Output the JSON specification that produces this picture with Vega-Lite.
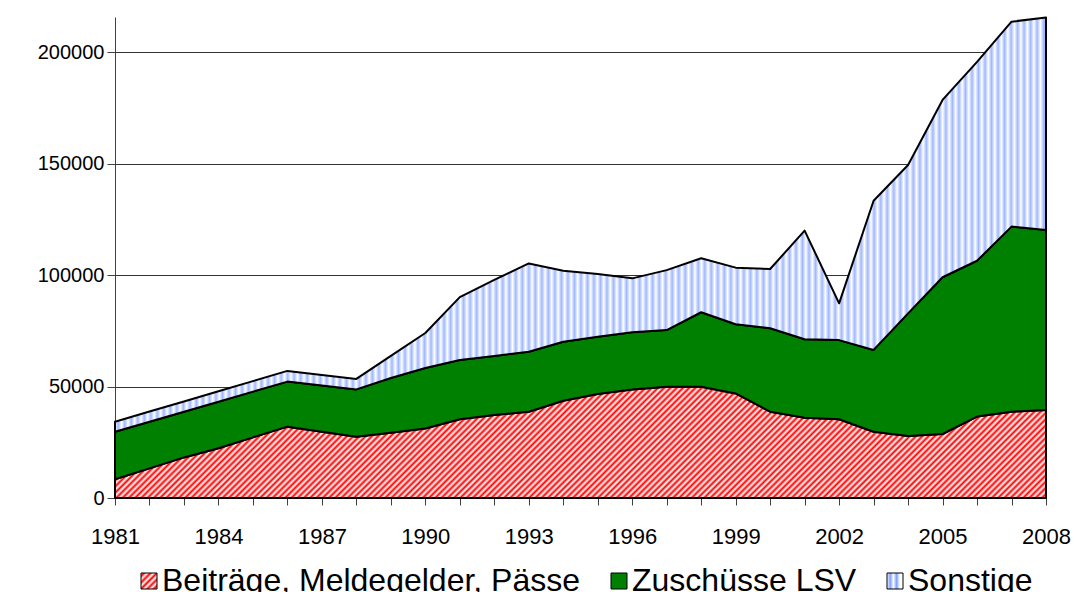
{
"$schema": "https://vega.github.io/schema/vega-lite/v6.json",
"width": 931,
"height": 481,
"autosize": {"type": "none"},
"padding": {"left": 115, "top": 17, "right": 30, "bottom": 94},
"background": "white",
"config": {
  "view": {"stroke": null},
  "font": "Liberation Sans",
  "axis": {"labelFont": "Liberation Sans", "labelColor": "black", "labelFontSize": 22, "domainColor": "#404040", "tickColor": "#404040", "domainWidth": 1, "tickWidth": 1, "labelFlush": false, "labelOverlap": false, "title": null}
},
"data": {"values": [
{"year":1981,"series":"Beiträge, Meldegelder, Pässe","k":1,"value":8400},{"year":1981,"series":"Zuschüsse LSV","k":2,"value":21300},{"year":1981,"series":"Sonstige","k":3,"value":4500},
{"year":1982,"series":"Beiträge, Meldegelder, Pässe","k":1,"value":13300},{"year":1982,"series":"Zuschüsse LSV","k":2,"value":20900},{"year":1982,"series":"Sonstige","k":3,"value":4600},
{"year":1983,"series":"Beiträge, Meldegelder, Pässe","k":1,"value":18200},{"year":1983,"series":"Zuschüsse LSV","k":2,"value":20500},{"year":1983,"series":"Sonstige","k":3,"value":4600},
{"year":1984,"series":"Beiträge, Meldegelder, Pässe","k":1,"value":22300},{"year":1984,"series":"Zuschüsse LSV","k":2,"value":20900},{"year":1984,"series":"Sonstige","k":3,"value":4700},
{"year":1985,"series":"Beiträge, Meldegelder, Pässe","k":1,"value":27200},{"year":1985,"series":"Zuschüsse LSV","k":2,"value":20500},{"year":1985,"series":"Sonstige","k":3,"value":4700},
{"year":1986,"series":"Beiträge, Meldegelder, Pässe","k":1,"value":32000},{"year":1986,"series":"Zuschüsse LSV","k":2,"value":20200},{"year":1986,"series":"Sonstige","k":3,"value":4800},
{"year":1987,"series":"Beiträge, Meldegelder, Pässe","k":1,"value":29700},{"year":1987,"series":"Zuschüsse LSV","k":2,"value":20800},{"year":1987,"series":"Sonstige","k":3,"value":4700},
{"year":1988,"series":"Beiträge, Meldegelder, Pässe","k":1,"value":27500},{"year":1988,"series":"Zuschüsse LSV","k":2,"value":21200},{"year":1988,"series":"Sonstige","k":3,"value":4700},
{"year":1989,"series":"Beiträge, Meldegelder, Pässe","k":1,"value":29300},{"year":1989,"series":"Zuschüsse LSV","k":2,"value":24500},{"year":1989,"series":"Sonstige","k":3,"value":9900},
{"year":1990,"series":"Beiträge, Meldegelder, Pässe","k":1,"value":31200},{"year":1990,"series":"Zuschüsse LSV","k":2,"value":27100},{"year":1990,"series":"Sonstige","k":3,"value":15700},
{"year":1991,"series":"Beiträge, Meldegelder, Pässe","k":1,"value":35300},{"year":1991,"series":"Zuschüsse LSV","k":2,"value":26600},{"year":1991,"series":"Sonstige","k":3,"value":28200},
{"year":1992,"series":"Beiträge, Meldegelder, Pässe","k":1,"value":37200},{"year":1992,"series":"Zuschüsse LSV","k":2,"value":26500},{"year":1992,"series":"Sonstige","k":3,"value":34100},
{"year":1993,"series":"Beiträge, Meldegelder, Pässe","k":1,"value":38700},{"year":1993,"series":"Zuschüsse LSV","k":2,"value":26900},{"year":1993,"series":"Sonstige","k":3,"value":39600},
{"year":1994,"series":"Beiträge, Meldegelder, Pässe","k":1,"value":43600},{"year":1994,"series":"Zuschüsse LSV","k":2,"value":26500},{"year":1994,"series":"Sonstige","k":3,"value":31800},
{"year":1995,"series":"Beiträge, Meldegelder, Pässe","k":1,"value":46600},{"year":1995,"series":"Zuschüsse LSV","k":2,"value":25700},{"year":1995,"series":"Sonstige","k":3,"value":28100},
{"year":1996,"series":"Beiträge, Meldegelder, Pässe","k":1,"value":48700},{"year":1996,"series":"Zuschüsse LSV","k":2,"value":25600},{"year":1996,"series":"Sonstige","k":3,"value":24200},
{"year":1997,"series":"Beiträge, Meldegelder, Pässe","k":1,"value":49900},{"year":1997,"series":"Zuschüsse LSV","k":2,"value":25400},{"year":1997,"series":"Sonstige","k":3,"value":26900},
{"year":1998,"series":"Beiträge, Meldegelder, Pässe","k":1,"value":49900},{"year":1998,"series":"Zuschüsse LSV","k":2,"value":33400},{"year":1998,"series":"Sonstige","k":3,"value":24200},
{"year":1999,"series":"Beiträge, Meldegelder, Pässe","k":1,"value":46900},{"year":1999,"series":"Zuschüsse LSV","k":2,"value":31000},{"year":1999,"series":"Sonstige","k":3,"value":25400},
{"year":2000,"series":"Beiträge, Meldegelder, Pässe","k":1,"value":38700},{"year":2000,"series":"Zuschüsse LSV","k":2,"value":37400},{"year":2000,"series":"Sonstige","k":3,"value":26600},
{"year":2001,"series":"Beiträge, Meldegelder, Pässe","k":1,"value":36000},{"year":2001,"series":"Zuschüsse LSV","k":2,"value":35200},{"year":2001,"series":"Sonstige","k":3,"value":48700},
{"year":2002,"series":"Beiträge, Meldegelder, Pässe","k":1,"value":35300},{"year":2002,"series":"Zuschüsse LSV","k":2,"value":35500},{"year":2002,"series":"Sonstige","k":3,"value":16500},
{"year":2003,"series":"Beiträge, Meldegelder, Pässe","k":1,"value":29700},{"year":2003,"series":"Zuschüsse LSV","k":2,"value":36700},{"year":2003,"series":"Sonstige","k":3,"value":66900},
{"year":2004,"series":"Beiträge, Meldegelder, Pässe","k":1,"value":27800},{"year":2004,"series":"Zuschüsse LSV","k":2,"value":55000},{"year":2004,"series":"Sonstige","k":3,"value":66500},
{"year":2005,"series":"Beiträge, Meldegelder, Pässe","k":1,"value":28700},{"year":2005,"series":"Zuschüsse LSV","k":2,"value":70300},{"year":2005,"series":"Sonstige","k":3,"value":79500},
{"year":2006,"series":"Beiträge, Meldegelder, Pässe","k":1,"value":36500},{"year":2006,"series":"Zuschüsse LSV","k":2,"value":69900},{"year":2006,"series":"Sonstige","k":3,"value":89200},
{"year":2007,"series":"Beiträge, Meldegelder, Pässe","k":1,"value":38700},{"year":2007,"series":"Zuschüsse LSV","k":2,"value":83000},{"year":2007,"series":"Sonstige","k":3,"value":91900},
{"year":2008,"series":"Beiträge, Meldegelder, Pässe","k":1,"value":39500},{"year":2008,"series":"Zuschüsse LSV","k":2,"value":80700},{"year":2008,"series":"Sonstige","k":3,"value":95300}
]},
"transform": [
  {"stack": "value", "groupby": ["year"], "sort": [{"field": "k", "order": "ascending"}], "as": ["v0", "v1"]}
],
"encoding": {
  "x": {"field": "year", "type": "quantitative",
    "scale": {"domain": [1981, 2008], "nice": false, "zero": false},
    "axis": {"values": [1981,1982,1983,1984,1985,1986,1987,1988,1989,1990,1991,1992,1993,1994,1995,1996,1997,1998,1999,2000,2001,2002,2003,2004,2005,2006,2007,2008],
      "format": "d", "labelExpr": "(datum.value - 1981) % 3 == 0 ? datum.label : ''", "grid": false, "tickSize": 7, "labelPadding": 21, "labelFontSize": 22}},
  "y": {"field": "v1", "type": "quantitative",
    "scale": {"domain": [0, 215700], "nice": false},
    "axis": {"values": [0, 50000, 100000, 150000, 200000], "format": "d", "grid": true, "gridColor": "#333333", "gridWidth": 1, "tickSize": 8, "labelPadding": 3, "labelFontSize": 20}},
  "y2": {"field": "v0"}
},
"layer": [
  {
    "transform": [{"filter": "datum.k == 1"}],
    "mark": {"type": "area", "interpolate": "linear", "stroke": "black", "strokeWidth": 2, "strokeJoin": "round",
      "color": {"gradient": "linear", "x1": 0, "y1": 0, "x2": 1.1038, "y2": 0.132, "stops": [
{"offset":0,"color":"#f00"},{"offset":0.003,"color":"#fff"},{"offset":0.006,"color":"#f00"},{"offset":0.009,"color":"#fff"},{"offset":0.012,"color":"#f00"},{"offset":0.015,"color":"#fff"},{"offset":0.018,"color":"#f00"},{"offset":0.021,"color":"#fff"},{"offset":0.024,"color":"#f00"},{"offset":0.027,"color":"#fff"},
{"offset":0.03,"color":"#f00"},{"offset":0.033,"color":"#fff"},{"offset":0.036,"color":"#f00"},{"offset":0.039,"color":"#fff"},{"offset":0.042,"color":"#f00"},{"offset":0.045,"color":"#fff"},{"offset":0.048,"color":"#f00"},{"offset":0.051,"color":"#fff"},{"offset":0.054,"color":"#f00"},{"offset":0.057,"color":"#fff"},
{"offset":0.06,"color":"#f00"},{"offset":0.063,"color":"#fff"},{"offset":0.066,"color":"#f00"},{"offset":0.069,"color":"#fff"},{"offset":0.072,"color":"#f00"},{"offset":0.075,"color":"#fff"},{"offset":0.078,"color":"#f00"},{"offset":0.081,"color":"#fff"},{"offset":0.084,"color":"#f00"},{"offset":0.087,"color":"#fff"},
{"offset":0.09,"color":"#f00"},{"offset":0.093,"color":"#fff"},{"offset":0.096,"color":"#f00"},{"offset":0.099,"color":"#fff"},{"offset":0.102,"color":"#f00"},{"offset":0.105,"color":"#fff"},{"offset":0.108,"color":"#f00"},{"offset":0.111,"color":"#fff"},{"offset":0.114,"color":"#f00"},{"offset":0.117,"color":"#fff"},
{"offset":0.12,"color":"#f00"},{"offset":0.123,"color":"#fff"},{"offset":0.126,"color":"#f00"},{"offset":0.129,"color":"#fff"},{"offset":0.132,"color":"#f00"},{"offset":0.135,"color":"#fff"},{"offset":0.138,"color":"#f00"},{"offset":0.141,"color":"#fff"},{"offset":0.144,"color":"#f00"},{"offset":0.147,"color":"#fff"},
{"offset":0.15,"color":"#f00"},{"offset":0.153,"color":"#fff"},{"offset":0.156,"color":"#f00"},{"offset":0.159,"color":"#fff"},{"offset":0.162,"color":"#f00"},{"offset":0.165,"color":"#fff"},{"offset":0.168,"color":"#f00"},{"offset":0.171,"color":"#fff"},{"offset":0.174,"color":"#f00"},{"offset":0.177,"color":"#fff"},
{"offset":0.18,"color":"#f00"},{"offset":0.183,"color":"#fff"},{"offset":0.186,"color":"#f00"},{"offset":0.189,"color":"#fff"},{"offset":0.192,"color":"#f00"},{"offset":0.195,"color":"#fff"},{"offset":0.198,"color":"#f00"},{"offset":0.201,"color":"#fff"},{"offset":0.204,"color":"#f00"},{"offset":0.207,"color":"#fff"},
{"offset":0.21,"color":"#f00"},{"offset":0.213,"color":"#fff"},{"offset":0.216,"color":"#f00"},{"offset":0.219,"color":"#fff"},{"offset":0.222,"color":"#f00"},{"offset":0.225,"color":"#fff"},{"offset":0.228,"color":"#f00"},{"offset":0.231,"color":"#fff"},{"offset":0.234,"color":"#f00"},{"offset":0.237,"color":"#fff"},
{"offset":0.24,"color":"#f00"},{"offset":0.243,"color":"#fff"},{"offset":0.246,"color":"#f00"},{"offset":0.249,"color":"#fff"},{"offset":0.252,"color":"#f00"},{"offset":0.255,"color":"#fff"},{"offset":0.258,"color":"#f00"},{"offset":0.261,"color":"#fff"},{"offset":0.264,"color":"#f00"},{"offset":0.267,"color":"#fff"},
{"offset":0.27,"color":"#f00"},{"offset":0.273,"color":"#fff"},{"offset":0.276,"color":"#f00"},{"offset":0.279,"color":"#fff"},{"offset":0.282,"color":"#f00"},{"offset":0.285,"color":"#fff"},{"offset":0.288,"color":"#f00"},{"offset":0.291,"color":"#fff"},{"offset":0.294,"color":"#f00"},{"offset":0.297,"color":"#fff"},
{"offset":0.3,"color":"#f00"},{"offset":0.303,"color":"#fff"},{"offset":0.306,"color":"#f00"},{"offset":0.309,"color":"#fff"},{"offset":0.312,"color":"#f00"},{"offset":0.315,"color":"#fff"},{"offset":0.318,"color":"#f00"},{"offset":0.321,"color":"#fff"},{"offset":0.324,"color":"#f00"},{"offset":0.327,"color":"#fff"},
{"offset":0.33,"color":"#f00"},{"offset":0.333,"color":"#fff"},{"offset":0.336,"color":"#f00"},{"offset":0.339,"color":"#fff"},{"offset":0.342,"color":"#f00"},{"offset":0.345,"color":"#fff"},{"offset":0.348,"color":"#f00"},{"offset":0.351,"color":"#fff"},{"offset":0.354,"color":"#f00"},{"offset":0.357,"color":"#fff"},
{"offset":0.36,"color":"#f00"},{"offset":0.363,"color":"#fff"},{"offset":0.366,"color":"#f00"},{"offset":0.369,"color":"#fff"},{"offset":0.372,"color":"#f00"},{"offset":0.375,"color":"#fff"},{"offset":0.378,"color":"#f00"},{"offset":0.381,"color":"#fff"},{"offset":0.384,"color":"#f00"},{"offset":0.387,"color":"#fff"},
{"offset":0.39,"color":"#f00"},{"offset":0.393,"color":"#fff"},{"offset":0.396,"color":"#f00"},{"offset":0.399,"color":"#fff"},{"offset":0.402,"color":"#f00"},{"offset":0.405,"color":"#fff"},{"offset":0.408,"color":"#f00"},{"offset":0.411,"color":"#fff"},{"offset":0.414,"color":"#f00"},{"offset":0.417,"color":"#fff"},
{"offset":0.42,"color":"#f00"},{"offset":0.423,"color":"#fff"},{"offset":0.426,"color":"#f00"},{"offset":0.429,"color":"#fff"},{"offset":0.432,"color":"#f00"},{"offset":0.435,"color":"#fff"},{"offset":0.438,"color":"#f00"},{"offset":0.441,"color":"#fff"},{"offset":0.444,"color":"#f00"},{"offset":0.447,"color":"#fff"},
{"offset":0.45,"color":"#f00"},{"offset":0.453,"color":"#fff"},{"offset":0.456,"color":"#f00"},{"offset":0.459,"color":"#fff"},{"offset":0.462,"color":"#f00"},{"offset":0.465,"color":"#fff"},{"offset":0.468,"color":"#f00"},{"offset":0.471,"color":"#fff"},{"offset":0.474,"color":"#f00"},{"offset":0.477,"color":"#fff"},
{"offset":0.48,"color":"#f00"},{"offset":0.483,"color":"#fff"},{"offset":0.486,"color":"#f00"},{"offset":0.489,"color":"#fff"},{"offset":0.492,"color":"#f00"},{"offset":0.495,"color":"#fff"},{"offset":0.498,"color":"#f00"},{"offset":0.501,"color":"#fff"},{"offset":0.504,"color":"#f00"},{"offset":0.507,"color":"#fff"},
{"offset":0.51,"color":"#f00"},{"offset":0.513,"color":"#fff"},{"offset":0.516,"color":"#f00"},{"offset":0.519,"color":"#fff"},{"offset":0.522,"color":"#f00"},{"offset":0.525,"color":"#fff"},{"offset":0.528,"color":"#f00"},{"offset":0.531,"color":"#fff"},{"offset":0.534,"color":"#f00"},{"offset":0.537,"color":"#fff"},
{"offset":0.54,"color":"#f00"},{"offset":0.543,"color":"#fff"},{"offset":0.546,"color":"#f00"},{"offset":0.549,"color":"#fff"},{"offset":0.552,"color":"#f00"},{"offset":0.555,"color":"#fff"},{"offset":0.558,"color":"#f00"},{"offset":0.561,"color":"#fff"},{"offset":0.564,"color":"#f00"},{"offset":0.567,"color":"#fff"},
{"offset":0.57,"color":"#f00"},{"offset":0.573,"color":"#fff"},{"offset":0.576,"color":"#f00"},{"offset":0.579,"color":"#fff"},{"offset":0.582,"color":"#f00"},{"offset":0.585,"color":"#fff"},{"offset":0.588,"color":"#f00"},{"offset":0.591,"color":"#fff"},{"offset":0.594,"color":"#f00"},{"offset":0.597,"color":"#fff"},
{"offset":0.6,"color":"#f00"},{"offset":0.603,"color":"#fff"},{"offset":0.606,"color":"#f00"},{"offset":0.609,"color":"#fff"},{"offset":0.612,"color":"#f00"},{"offset":0.615,"color":"#fff"},{"offset":0.618,"color":"#f00"},{"offset":0.621,"color":"#fff"},{"offset":0.624,"color":"#f00"},{"offset":0.627,"color":"#fff"},
{"offset":0.63,"color":"#f00"},{"offset":0.633,"color":"#fff"},{"offset":0.636,"color":"#f00"},{"offset":0.639,"color":"#fff"},{"offset":0.642,"color":"#f00"},{"offset":0.645,"color":"#fff"},{"offset":0.648,"color":"#f00"},{"offset":0.651,"color":"#fff"},{"offset":0.654,"color":"#f00"},{"offset":0.657,"color":"#fff"},
{"offset":0.66,"color":"#f00"},{"offset":0.663,"color":"#fff"},{"offset":0.666,"color":"#f00"},{"offset":0.669,"color":"#fff"},{"offset":0.672,"color":"#f00"},{"offset":0.675,"color":"#fff"},{"offset":0.678,"color":"#f00"},{"offset":0.681,"color":"#fff"},{"offset":0.684,"color":"#f00"},{"offset":0.687,"color":"#fff"},
{"offset":0.69,"color":"#f00"},{"offset":0.693,"color":"#fff"},{"offset":0.696,"color":"#f00"},{"offset":0.699,"color":"#fff"},{"offset":0.702,"color":"#f00"},{"offset":0.705,"color":"#fff"},{"offset":0.708,"color":"#f00"},{"offset":0.711,"color":"#fff"},{"offset":0.714,"color":"#f00"},{"offset":0.717,"color":"#fff"},
{"offset":0.72,"color":"#f00"},{"offset":0.723,"color":"#fff"},{"offset":0.726,"color":"#f00"},{"offset":0.729,"color":"#fff"},{"offset":0.732,"color":"#f00"},{"offset":0.735,"color":"#fff"},{"offset":0.738,"color":"#f00"},{"offset":0.741,"color":"#fff"},{"offset":0.744,"color":"#f00"},{"offset":0.747,"color":"#fff"},
{"offset":0.75,"color":"#f00"},{"offset":0.753,"color":"#fff"},{"offset":0.756,"color":"#f00"},{"offset":0.759,"color":"#fff"},{"offset":0.762,"color":"#f00"},{"offset":0.765,"color":"#fff"},{"offset":0.768,"color":"#f00"},{"offset":0.771,"color":"#fff"},{"offset":0.774,"color":"#f00"},{"offset":0.777,"color":"#fff"},
{"offset":0.78,"color":"#f00"},{"offset":0.783,"color":"#fff"},{"offset":0.786,"color":"#f00"},{"offset":0.789,"color":"#fff"},{"offset":0.792,"color":"#f00"},{"offset":0.795,"color":"#fff"},{"offset":0.798,"color":"#f00"},{"offset":0.801,"color":"#fff"},{"offset":0.804,"color":"#f00"},{"offset":0.807,"color":"#fff"},
{"offset":0.81,"color":"#f00"},{"offset":0.813,"color":"#fff"},{"offset":0.816,"color":"#f00"},{"offset":0.819,"color":"#fff"},{"offset":0.822,"color":"#f00"},{"offset":0.825,"color":"#fff"},{"offset":0.828,"color":"#f00"},{"offset":0.831,"color":"#fff"},{"offset":0.834,"color":"#f00"},{"offset":0.837,"color":"#fff"},
{"offset":0.84,"color":"#f00"},{"offset":0.843,"color":"#fff"},{"offset":0.846,"color":"#f00"},{"offset":0.849,"color":"#fff"},{"offset":0.852,"color":"#f00"},{"offset":0.855,"color":"#fff"},{"offset":0.858,"color":"#f00"},{"offset":0.861,"color":"#fff"},{"offset":0.864,"color":"#f00"},{"offset":0.867,"color":"#fff"},
{"offset":0.87,"color":"#f00"},{"offset":0.873,"color":"#fff"},{"offset":0.876,"color":"#f00"},{"offset":0.879,"color":"#fff"},{"offset":0.882,"color":"#f00"},{"offset":0.885,"color":"#fff"},{"offset":0.888,"color":"#f00"},{"offset":0.891,"color":"#fff"},{"offset":0.894,"color":"#f00"},{"offset":0.897,"color":"#fff"},
{"offset":0.9,"color":"#f00"},{"offset":0.903,"color":"#fff"},{"offset":0.906,"color":"#f00"},{"offset":0.909,"color":"#fff"},{"offset":0.912,"color":"#f00"},{"offset":0.915,"color":"#fff"},{"offset":0.918,"color":"#f00"},{"offset":0.921,"color":"#fff"},{"offset":0.924,"color":"#f00"},{"offset":0.927,"color":"#fff"},
{"offset":0.93,"color":"#f00"},{"offset":0.933,"color":"#fff"},{"offset":0.936,"color":"#f00"},{"offset":0.939,"color":"#fff"},{"offset":0.942,"color":"#f00"},{"offset":0.945,"color":"#fff"},{"offset":0.948,"color":"#f00"},{"offset":0.951,"color":"#fff"},{"offset":0.954,"color":"#f00"},{"offset":0.957,"color":"#fff"},
{"offset":0.96,"color":"#f00"},{"offset":0.963,"color":"#fff"},{"offset":0.966,"color":"#f00"},{"offset":0.969,"color":"#fff"},{"offset":0.972,"color":"#f00"},{"offset":0.975,"color":"#fff"},{"offset":0.978,"color":"#f00"},{"offset":0.981,"color":"#fff"},{"offset":0.984,"color":"#f00"},{"offset":0.987,"color":"#fff"},
{"offset":0.99,"color":"#f00"},{"offset":0.993,"color":"#fff"},{"offset":0.996,"color":"#f00"},{"offset":0.999,"color":"#fff"}
      ]}}
  },
  {
    "transform": [{"filter": "datum.k == 2"}],
    "mark": {"type": "area", "interpolate": "linear", "stroke": "black", "strokeWidth": 2, "strokeJoin": "round", "color": "#008000"}
  },
  {
    "transform": [{"filter": "datum.k == 3"}],
    "mark": {"type": "area", "interpolate": "linear", "stroke": "black", "strokeWidth": 2, "strokeJoin": "round",
      "color": {"gradient": "linear", "x1": 0, "y1": 0, "x2": 1, "y2": 0, "stops": [
{"offset":0,"color":"#fff"},{"offset":0.0035,"color":"#a0b8ff"},{"offset":0.007,"color":"#fff"},{"offset":0.0105,"color":"#a0b8ff"},{"offset":0.014,"color":"#fff"},{"offset":0.0175,"color":"#a0b8ff"},{"offset":0.021,"color":"#fff"},{"offset":0.0245,"color":"#a0b8ff"},{"offset":0.028,"color":"#fff"},{"offset":0.0315,"color":"#a0b8ff"},{"offset":0.035,"color":"#fff"},{"offset":0.0385,"color":"#a0b8ff"},{"offset":0.042,"color":"#fff"},{"offset":0.0455,"color":"#a0b8ff"},{"offset":0.049,"color":"#fff"},{"offset":0.0525,"color":"#a0b8ff"},{"offset":0.056,"color":"#fff"},{"offset":0.0595,"color":"#a0b8ff"},{"offset":0.063,"color":"#fff"},{"offset":0.0665,"color":"#a0b8ff"},
{"offset":0.07,"color":"#fff"},{"offset":0.0735,"color":"#a0b8ff"},{"offset":0.077,"color":"#fff"},{"offset":0.0805,"color":"#a0b8ff"},{"offset":0.084,"color":"#fff"},{"offset":0.0875,"color":"#a0b8ff"},{"offset":0.091,"color":"#fff"},{"offset":0.0945,"color":"#a0b8ff"},{"offset":0.098,"color":"#fff"},{"offset":0.1015,"color":"#a0b8ff"},{"offset":0.105,"color":"#fff"},{"offset":0.1085,"color":"#a0b8ff"},{"offset":0.112,"color":"#fff"},{"offset":0.1155,"color":"#a0b8ff"},{"offset":0.119,"color":"#fff"},{"offset":0.1225,"color":"#a0b8ff"},{"offset":0.126,"color":"#fff"},{"offset":0.1295,"color":"#a0b8ff"},{"offset":0.133,"color":"#fff"},{"offset":0.1365,"color":"#a0b8ff"},
{"offset":0.14,"color":"#fff"},{"offset":0.1435,"color":"#a0b8ff"},{"offset":0.147,"color":"#fff"},{"offset":0.1505,"color":"#a0b8ff"},{"offset":0.154,"color":"#fff"},{"offset":0.1575,"color":"#a0b8ff"},{"offset":0.161,"color":"#fff"},{"offset":0.1645,"color":"#a0b8ff"},{"offset":0.168,"color":"#fff"},{"offset":0.1715,"color":"#a0b8ff"},{"offset":0.175,"color":"#fff"},{"offset":0.1785,"color":"#a0b8ff"},{"offset":0.182,"color":"#fff"},{"offset":0.1855,"color":"#a0b8ff"},{"offset":0.189,"color":"#fff"},{"offset":0.1925,"color":"#a0b8ff"},{"offset":0.196,"color":"#fff"},{"offset":0.1995,"color":"#a0b8ff"},{"offset":0.203,"color":"#fff"},{"offset":0.2065,"color":"#a0b8ff"},
{"offset":0.21,"color":"#fff"},{"offset":0.2135,"color":"#a0b8ff"},{"offset":0.217,"color":"#fff"},{"offset":0.2205,"color":"#a0b8ff"},{"offset":0.224,"color":"#fff"},{"offset":0.2275,"color":"#a0b8ff"},{"offset":0.231,"color":"#fff"},{"offset":0.2345,"color":"#a0b8ff"},{"offset":0.238,"color":"#fff"},{"offset":0.2415,"color":"#a0b8ff"},{"offset":0.245,"color":"#fff"},{"offset":0.2485,"color":"#a0b8ff"},{"offset":0.252,"color":"#fff"},{"offset":0.2555,"color":"#a0b8ff"},{"offset":0.259,"color":"#fff"},{"offset":0.2625,"color":"#a0b8ff"},{"offset":0.266,"color":"#fff"},{"offset":0.2695,"color":"#a0b8ff"},{"offset":0.273,"color":"#fff"},{"offset":0.2765,"color":"#a0b8ff"},
{"offset":0.28,"color":"#fff"},{"offset":0.2835,"color":"#a0b8ff"},{"offset":0.287,"color":"#fff"},{"offset":0.2905,"color":"#a0b8ff"},{"offset":0.294,"color":"#fff"},{"offset":0.2975,"color":"#a0b8ff"},{"offset":0.301,"color":"#fff"},{"offset":0.3045,"color":"#a0b8ff"},{"offset":0.308,"color":"#fff"},{"offset":0.3115,"color":"#a0b8ff"},{"offset":0.315,"color":"#fff"},{"offset":0.3185,"color":"#a0b8ff"},{"offset":0.322,"color":"#fff"},{"offset":0.3255,"color":"#a0b8ff"},{"offset":0.329,"color":"#fff"},{"offset":0.3325,"color":"#a0b8ff"},{"offset":0.336,"color":"#fff"},{"offset":0.3395,"color":"#a0b8ff"},{"offset":0.343,"color":"#fff"},{"offset":0.3465,"color":"#a0b8ff"},
{"offset":0.35,"color":"#fff"},{"offset":0.3535,"color":"#a0b8ff"},{"offset":0.357,"color":"#fff"},{"offset":0.3605,"color":"#a0b8ff"},{"offset":0.364,"color":"#fff"},{"offset":0.3675,"color":"#a0b8ff"},{"offset":0.371,"color":"#fff"},{"offset":0.3745,"color":"#a0b8ff"},{"offset":0.378,"color":"#fff"},{"offset":0.3815,"color":"#a0b8ff"},{"offset":0.385,"color":"#fff"},{"offset":0.3885,"color":"#a0b8ff"},{"offset":0.392,"color":"#fff"},{"offset":0.3955,"color":"#a0b8ff"},{"offset":0.399,"color":"#fff"},{"offset":0.4025,"color":"#a0b8ff"},{"offset":0.406,"color":"#fff"},{"offset":0.4095,"color":"#a0b8ff"},{"offset":0.413,"color":"#fff"},{"offset":0.4165,"color":"#a0b8ff"},
{"offset":0.42,"color":"#fff"},{"offset":0.4235,"color":"#a0b8ff"},{"offset":0.427,"color":"#fff"},{"offset":0.4305,"color":"#a0b8ff"},{"offset":0.434,"color":"#fff"},{"offset":0.4375,"color":"#a0b8ff"},{"offset":0.441,"color":"#fff"},{"offset":0.4445,"color":"#a0b8ff"},{"offset":0.448,"color":"#fff"},{"offset":0.4515,"color":"#a0b8ff"},{"offset":0.455,"color":"#fff"},{"offset":0.4585,"color":"#a0b8ff"},{"offset":0.462,"color":"#fff"},{"offset":0.4655,"color":"#a0b8ff"},{"offset":0.469,"color":"#fff"},{"offset":0.4725,"color":"#a0b8ff"},{"offset":0.476,"color":"#fff"},{"offset":0.4795,"color":"#a0b8ff"},{"offset":0.483,"color":"#fff"},{"offset":0.4865,"color":"#a0b8ff"},
{"offset":0.49,"color":"#fff"},{"offset":0.4935,"color":"#a0b8ff"},{"offset":0.497,"color":"#fff"},{"offset":0.5005,"color":"#a0b8ff"},{"offset":0.504,"color":"#fff"},{"offset":0.5075,"color":"#a0b8ff"},{"offset":0.511,"color":"#fff"},{"offset":0.5145,"color":"#a0b8ff"},{"offset":0.518,"color":"#fff"},{"offset":0.5215,"color":"#a0b8ff"},{"offset":0.525,"color":"#fff"},{"offset":0.5285,"color":"#a0b8ff"},{"offset":0.532,"color":"#fff"},{"offset":0.5355,"color":"#a0b8ff"},{"offset":0.539,"color":"#fff"},{"offset":0.5425,"color":"#a0b8ff"},{"offset":0.546,"color":"#fff"},{"offset":0.5495,"color":"#a0b8ff"},{"offset":0.553,"color":"#fff"},{"offset":0.5565,"color":"#a0b8ff"},
{"offset":0.56,"color":"#fff"},{"offset":0.5635,"color":"#a0b8ff"},{"offset":0.567,"color":"#fff"},{"offset":0.5705,"color":"#a0b8ff"},{"offset":0.574,"color":"#fff"},{"offset":0.5775,"color":"#a0b8ff"},{"offset":0.581,"color":"#fff"},{"offset":0.5845,"color":"#a0b8ff"},{"offset":0.588,"color":"#fff"},{"offset":0.5915,"color":"#a0b8ff"},{"offset":0.595,"color":"#fff"},{"offset":0.5985,"color":"#a0b8ff"},{"offset":0.602,"color":"#fff"},{"offset":0.6055,"color":"#a0b8ff"},{"offset":0.609,"color":"#fff"},{"offset":0.6125,"color":"#a0b8ff"},{"offset":0.616,"color":"#fff"},{"offset":0.6195,"color":"#a0b8ff"},{"offset":0.623,"color":"#fff"},{"offset":0.6265,"color":"#a0b8ff"},
{"offset":0.63,"color":"#fff"},{"offset":0.6335,"color":"#a0b8ff"},{"offset":0.637,"color":"#fff"},{"offset":0.6405,"color":"#a0b8ff"},{"offset":0.644,"color":"#fff"},{"offset":0.6475,"color":"#a0b8ff"},{"offset":0.651,"color":"#fff"},{"offset":0.6545,"color":"#a0b8ff"},{"offset":0.658,"color":"#fff"},{"offset":0.6615,"color":"#a0b8ff"},{"offset":0.665,"color":"#fff"},{"offset":0.6685,"color":"#a0b8ff"},{"offset":0.672,"color":"#fff"},{"offset":0.6755,"color":"#a0b8ff"},{"offset":0.679,"color":"#fff"},{"offset":0.6825,"color":"#a0b8ff"},{"offset":0.686,"color":"#fff"},{"offset":0.6895,"color":"#a0b8ff"},{"offset":0.693,"color":"#fff"},{"offset":0.6965,"color":"#a0b8ff"},
{"offset":0.7,"color":"#fff"},{"offset":0.7035,"color":"#a0b8ff"},{"offset":0.707,"color":"#fff"},{"offset":0.7105,"color":"#a0b8ff"},{"offset":0.714,"color":"#fff"},{"offset":0.7175,"color":"#a0b8ff"},{"offset":0.721,"color":"#fff"},{"offset":0.7245,"color":"#a0b8ff"},{"offset":0.728,"color":"#fff"},{"offset":0.7315,"color":"#a0b8ff"},{"offset":0.735,"color":"#fff"},{"offset":0.7385,"color":"#a0b8ff"},{"offset":0.742,"color":"#fff"},{"offset":0.7455,"color":"#a0b8ff"},{"offset":0.749,"color":"#fff"},{"offset":0.7525,"color":"#a0b8ff"},{"offset":0.756,"color":"#fff"},{"offset":0.7595,"color":"#a0b8ff"},{"offset":0.763,"color":"#fff"},{"offset":0.7665,"color":"#a0b8ff"},
{"offset":0.77,"color":"#fff"},{"offset":0.7735,"color":"#a0b8ff"},{"offset":0.777,"color":"#fff"},{"offset":0.7805,"color":"#a0b8ff"},{"offset":0.784,"color":"#fff"},{"offset":0.7875,"color":"#a0b8ff"},{"offset":0.791,"color":"#fff"},{"offset":0.7945,"color":"#a0b8ff"},{"offset":0.798,"color":"#fff"},{"offset":0.8015,"color":"#a0b8ff"},{"offset":0.805,"color":"#fff"},{"offset":0.8085,"color":"#a0b8ff"},{"offset":0.812,"color":"#fff"},{"offset":0.8155,"color":"#a0b8ff"},{"offset":0.819,"color":"#fff"},{"offset":0.8225,"color":"#a0b8ff"},{"offset":0.826,"color":"#fff"},{"offset":0.8295,"color":"#a0b8ff"},{"offset":0.833,"color":"#fff"},{"offset":0.8365,"color":"#a0b8ff"},
{"offset":0.84,"color":"#fff"},{"offset":0.8435,"color":"#a0b8ff"},{"offset":0.847,"color":"#fff"},{"offset":0.8505,"color":"#a0b8ff"},{"offset":0.854,"color":"#fff"},{"offset":0.8575,"color":"#a0b8ff"},{"offset":0.861,"color":"#fff"},{"offset":0.8645,"color":"#a0b8ff"},{"offset":0.868,"color":"#fff"},{"offset":0.8715,"color":"#a0b8ff"},{"offset":0.875,"color":"#fff"},{"offset":0.8785,"color":"#a0b8ff"},{"offset":0.882,"color":"#fff"},{"offset":0.8855,"color":"#a0b8ff"},{"offset":0.889,"color":"#fff"},{"offset":0.8925,"color":"#a0b8ff"},{"offset":0.896,"color":"#fff"},{"offset":0.8995,"color":"#a0b8ff"},{"offset":0.903,"color":"#fff"},{"offset":0.9065,"color":"#a0b8ff"},
{"offset":0.91,"color":"#fff"},{"offset":0.9135,"color":"#a0b8ff"},{"offset":0.917,"color":"#fff"},{"offset":0.9205,"color":"#a0b8ff"},{"offset":0.924,"color":"#fff"},{"offset":0.9275,"color":"#a0b8ff"},{"offset":0.931,"color":"#fff"},{"offset":0.9345,"color":"#a0b8ff"},{"offset":0.938,"color":"#fff"},{"offset":0.9415,"color":"#a0b8ff"},{"offset":0.945,"color":"#fff"},{"offset":0.9485,"color":"#a0b8ff"},{"offset":0.952,"color":"#fff"},{"offset":0.9555,"color":"#a0b8ff"},{"offset":0.959,"color":"#fff"},{"offset":0.9625,"color":"#a0b8ff"},{"offset":0.966,"color":"#fff"},{"offset":0.9695,"color":"#a0b8ff"},{"offset":0.973,"color":"#fff"},{"offset":0.9765,"color":"#a0b8ff"},
{"offset":0.98,"color":"#fff"},{"offset":0.9835,"color":"#a0b8ff"},{"offset":0.987,"color":"#fff"},{"offset":0.9905,"color":"#a0b8ff"},{"offset":0.994,"color":"#fff"},{"offset":0.9975,"color":"#a0b8ff"}
      ]}}
  },
  {
    "transform": [{"filter": "datum.k == 0"}],
    "mark": {"type": "square", "opacity": 1, "filled": true},
    "encoding": {
      "color": {"field": "series", "type": "nominal",
        "scale": {"domain": ["Beiträge, Meldegelder, Pässe", "Zuschüsse LSV", "Sonstige"],
          "range": [
            {"expr": "{gradient: 'linear', x1: 0, y1: 0, x2: 1, y2: 1, stops: [{offset: 0, color: '#fff'}, {offset: 0.1, color: '#f00'}, {offset: 0.2, color: '#fff'}, {offset: 0.3, color: '#f00'}, {offset: 0.4, color: '#fff'}, {offset: 0.5, color: '#f00'}, {offset: 0.6, color: '#fff'}, {offset: 0.7, color: '#f00'}, {offset: 0.8, color: '#fff'}, {offset: 0.9, color: '#f00'}, {offset: 1, color: '#fff'}]}"},
            "#008000",
            {"expr": "{gradient: 'linear', x1: 0, y1: 0, x2: 1, y2: 0, stops: [{offset: 0, color: '#fff'}, {offset: 0.2, color: '#7fa0ff'}, {offset: 0.4, color: '#fff'}, {offset: 0.6, color: '#7fa0ff'}, {offset: 0.8, color: '#fff'}, {offset: 1, color: '#fff'}]}"}
          ]},
        "legend": {"orient": "none", "legendX": 18, "legendY": 548, "direction": "horizontal", "title": null,
          "labelFont": "Liberation Sans", "labelFontSize": 32, "labelColor": "black", "labelOffset": -3, "labelLimit": 700,
          "symbolType": "square", "symbolSize": 256, "symbolStrokeColor": "black", "symbolStrokeWidth": 1, "symbolOpacity": 1,
          "columnPadding": 22, "padding": 0}}
    }
  }
]
}
